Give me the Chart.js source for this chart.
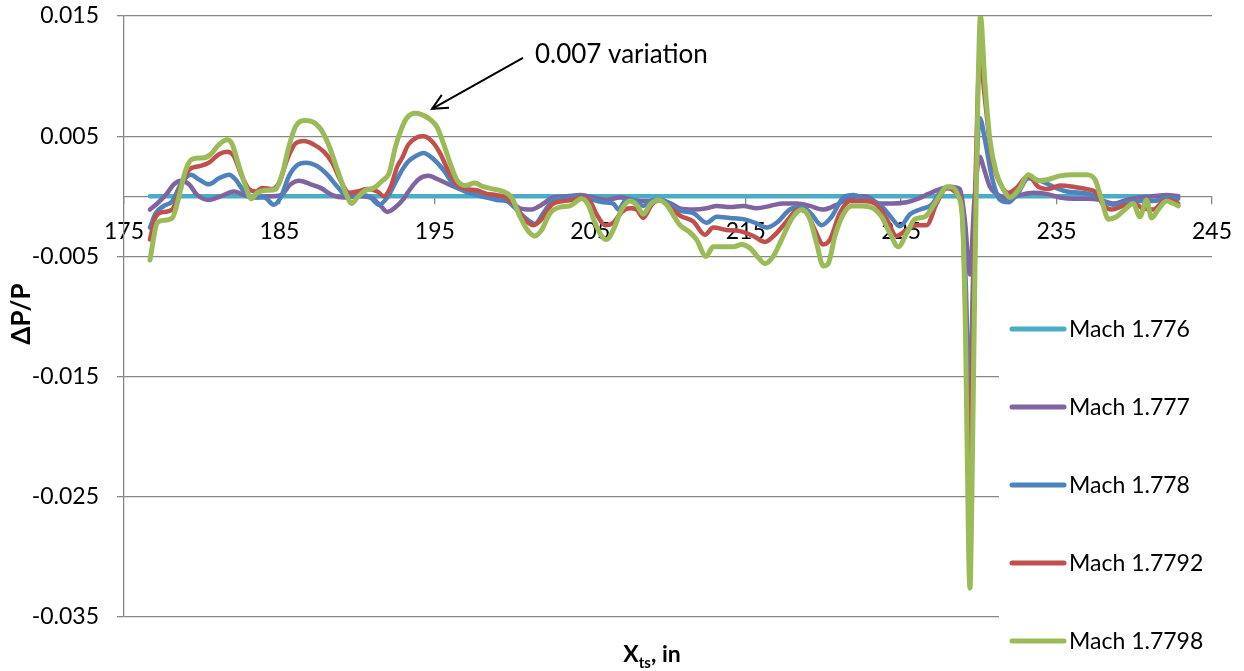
<!DOCTYPE html>
<html lang="en">
<head>
<meta charset="UTF-8">
<title>Pressure variation along Xts</title>
<script src="https://cdn.jsdelivr.net/npm/chart.js"></script>
<style>
  html, body { margin: 0; padding: 0; background: #fff; }
</style>
</head>
<body>
<canvas id="chart" width="1244" height="671"></canvas>
<script>
  // axis ticks
  const xTicks = [175, 185, 195, 205, 215, 225, 235, 245];
  const yTicks = [-0.035, -0.025, -0.015, -0.005, 0.005, 0.015];

  const seriesLabels = ["Mach 1.776", "Mach 1.777", "Mach 1.778", "Mach 1.7792", "Mach 1.7798"];
  const seriesColors = ["#4BACC6", "#8064A2", "#4F81BD", "#C0504D", "#9BBB59"];

  // Mach 1.776 (reference, flat)
  const x1776 = [176.67, 242.83];
  const y1776 = [0, 0];

  // Mach 1.777
  const x1777 = [176.67,177.14,177.68,178.22,178.65,179.18,179.72,180.47,181.22,182.08,182.72,183.36,184.22,185.08,185.72,186.26,187.01,187.65,188.40,189.15,190.01,190.87,191.51,191.94,192.48,193.0,193.3,193.94,194.58,195.22,195.87,196.62,197.37,198.12,198.98,199.83,200.48,201.23,201.87,202.62,203.48,204.34,205.20,206.05,206.91,207.77,208.63,209.48,210.34,210.77,211.63,212.49,213.13,213.99,214.84,215.70,216.56,217.42,218.28,219.13,219.99,220.85,221.71,222.67,223.64,224.50,225.35,226.10,226.75,227.50,228.14,228.78,229.1,229.43,229.7,230.07,230.28,230.71,231.25,231.89,232.64,233.50,234.36,235.22,236.08,236.93,237.79,238.65,239.50,240.36,241.22,242.08,242.83];
  const y1777 = [-0.0011,-0.0006,0.0001,0.001,0.0013,0.001,0.0001,-0.0003,0.0,0.0004,0.0001,-0.0001,0.0,0.0001,0.001,0.0013,0.001,0.0007,0.0001,-0.0001,0.0,-0.0001,-0.0008,-0.0013,-0.0009,-0.0002,0.0004,0.0014,0.0017,0.0014,0.001,0.0006,0.0003,0.0,-0.0001,-0.0004,-0.001,-0.0011,-0.0007,-0.0001,0.0,0.0001,-0.0001,-0.0003,-0.0001,-0.0003,-0.0004,-0.0003,-0.0007,-0.001,-0.0011,-0.001,-0.0008,-0.0009,-0.0008,-0.001,-0.0008,-0.0006,-0.0006,-0.0008,-0.0011,-0.0007,-0.0001,0.0,-0.0006,-0.0006,-0.0005,-0.0002,0.0002,0.0006,0.0008,0.0006,-0.002,-0.0065,-0.0005,0.0033,0.0025,0.0008,0.0001,-0.0002,0.0001,0.0003,0.0002,-0.0001,-0.0002,-0.0002,-0.0003,-0.0006,-0.0003,-0.0001,0.0,0.0001,0.0];

  // Mach 1.778
  const x1778 = [176.67,177.04,177.57,178.11,178.65,179.29,179.83,180.47,181.11,181.76,182.18,182.72,183.26,184.01,184.65,185.08,185.62,186.15,186.69,187.44,188.08,188.73,189.37,190.01,190.76,191.41,191.94,192.48,192.9,193.29,193.83,194.26,194.90,195.55,196.19,196.94,197.69,198.33,198.98,199.62,200.26,200.91,201.44,201.98,202.62,203.48,204.34,205.20,205.84,206.48,206.80,207.23,207.77,208.41,209.05,209.59,210.13,210.77,211.63,212.49,213.13,213.99,214.84,215.60,216.35,216.99,217.85,218.60,219.24,219.88,220.53,221.28,221.92,222.78,223.64,224.39,224.92,225.57,226.21,226.96,227.50,228.03,228.57,228.9,229.15,229.43,229.6,229.8,230.07,230.39,230.82,231.36,231.89,232.53,233.18,233.93,234.79,235.65,236.50,237.36,238.0,238.65,239.50,240.36,241.22,242.08,242.83];
  const y1778 = [-0.0026,-0.0014,-0.0008,-0.0004,0.001,0.0018,0.0014,0.001,0.0015,0.0018,0.0014,0.0004,-0.0001,-0.0001,-0.0007,-0.0001,0.0017,0.0026,0.0028,0.0025,0.0018,0.0008,0.0,0.0001,0.0,-0.0007,-0.0001,0.0012,0.0022,0.0029,0.0034,0.0036,0.0031,0.0022,0.001,0.0004,0.0001,-0.0001,-0.0003,-0.0004,-0.0011,-0.0019,-0.0023,-0.0014,-0.0003,-0.0001,0.0,-0.0003,-0.0005,-0.0006,-0.0011,-0.0004,-0.0003,-0.0008,-0.0003,-0.0003,-0.0007,-0.0012,-0.0014,-0.0022,-0.0017,-0.0018,-0.0019,-0.0022,-0.0026,-0.0022,-0.0011,-0.0009,-0.0015,-0.0024,-0.0017,-0.0001,0.0001,-0.0003,-0.0007,-0.0018,-0.0025,-0.0015,-0.0011,-0.0007,0.0003,0.0007,0.0004,-0.001,-0.007,-0.018,-0.008,0.001,0.0065,0.0047,0.0017,-0.0003,-0.0005,0.0003,0.0015,0.0013,0.0008,0.0004,0.0003,0.0001,-0.0004,-0.0007,-0.0005,-0.0004,-0.0004,-0.0001,-0.0002];

  // Mach 1.7792
  const x17792 = [176.67,177.04,177.57,178.11,178.65,179.18,179.83,180.47,181.11,181.65,182.08,182.51,183.04,183.47,183.90,184.54,184.97,185.51,186.04,186.58,187.22,187.87,188.40,188.94,189.48,190.01,190.66,191.30,191.73,192.16,192.59,192.9,193.29,193.83,194.26,194.79,195.33,195.87,196.40,197.05,197.69,198.33,198.98,199.62,200.16,200.69,201.33,201.87,202.51,203.26,203.91,204.44,204.98,205.41,205.95,206.48,207.02,207.55,207.98,208.41,208.95,209.48,210.02,210.77,211.63,212.38,212.91,213.77,214.63,215.49,216.24,216.88,217.63,218.38,218.92,219.45,219.99,220.42,221.06,221.71,222.56,223.42,224.07,224.71,225.35,226.0,226.64,227.28,227.93,228.57,228.9,229.15,229.43,229.6,229.8,230.07,230.39,230.82,231.36,231.89,232.43,233.18,233.82,234.47,235.22,236.08,236.93,237.47,238.0,238.54,239.29,239.93,240.58,241.22,241.87,242.29,242.83];
  const y17792 = [-0.0036,-0.0017,-0.0013,-0.0011,0.0008,0.0022,0.0025,0.0028,0.0035,0.0037,0.0033,0.0019,0.0006,0.0004,0.0007,0.0006,0.0011,0.0031,0.0044,0.0046,0.0043,0.0037,0.0028,0.0013,0.0003,0.0004,0.0006,0.0004,0.0,0.0008,0.0025,0.0032,0.0043,0.0049,0.005,0.0046,0.0036,0.0021,0.001,0.0006,0.0005,0.0002,0.0001,-0.0001,-0.0008,-0.0018,-0.0024,-0.0019,-0.0007,-0.0004,-0.0003,-0.0001,-0.0004,-0.0015,-0.0024,-0.0022,-0.0013,-0.001,-0.0011,-0.0018,-0.0007,-0.0003,-0.0008,-0.0016,-0.0021,-0.0032,-0.0026,-0.0028,-0.0029,-0.0033,-0.0038,-0.0032,-0.0021,-0.0011,-0.0014,-0.0028,-0.004,-0.0036,-0.0014,-0.0004,-0.0004,-0.0007,-0.0019,-0.0033,-0.0028,-0.0024,-0.0024,-0.0006,0.0007,0.0003,-0.001,-0.01,-0.026,-0.012,0.002,0.0117,0.0081,0.0033,0.0011,0.0003,0.0007,0.0017,0.0008,0.0006,0.0009,0.0008,0.0006,0.0004,-0.0007,-0.0011,-0.0008,-0.0006,-0.001,-0.0011,-0.0004,-0.0003,-0.0006];

  // Mach 1.7798
  const x17798 = [176.67,177.14,177.57,178.11,178.54,178.97,179.40,180.15,180.58,181.11,181.65,181.97,182.40,182.83,183.19,183.58,184.22,184.76,185.19,185.62,186.04,186.58,187.12,187.65,188.19,188.73,189.26,189.65,190.01,190.55,191.08,191.62,192.05,192.48,192.91,193.19,193.72,194.15,194.69,195.12,195.55,195.97,196.40,196.94,197.58,198.12,198.76,199.41,199.94,200.48,201.01,201.44,201.87,202.41,203.05,203.69,204.44,204.87,205.30,205.73,206.05,206.48,207.02,207.55,207.98,208.41,208.84,209.38,209.91,210.45,210.77,211.31,211.84,212.44,212.91,213.56,214.20,214.74,215.27,215.81,216.24,216.77,217.31,217.95,218.60,219.13,219.56,219.99,220.31,220.74,221.28,221.81,222.46,223.21,223.74,224.28,224.82,225.35,225.89,226.53,227.07,227.50,227.93,228.36,228.68,228.95,229.15,229.35,229.43,229.55,229.75,229.95,230.1,230.39,230.71,231.14,231.57,232.0,232.64,233.18,233.82,234.47,235.22,236.08,236.93,237.47,237.90,238.33,238.86,239.40,239.93,240.36,240.79,241.11,241.54,242.08,242.51,242.83];
  const y17798 = [-0.0053,-0.0022,-0.002,-0.0018,0.0,0.0022,0.0031,0.0032,0.0035,0.0043,0.0047,0.0043,0.0025,0.0008,-0.0002,0.0003,0.0005,0.0006,0.0019,0.0042,0.0058,0.0063,0.0062,0.0056,0.0042,0.0022,0.0003,-0.0006,-0.0001,0.0005,0.0007,0.0013,0.0019,0.0042,0.0058,0.0065,0.0069,0.0068,0.0064,0.0058,0.0044,0.0028,0.0014,0.0009,0.0011,0.0008,0.0006,0.0004,-0.0001,-0.0017,-0.0029,-0.0033,-0.0028,-0.0014,-0.0009,-0.0008,-0.0002,-0.0007,-0.0022,-0.0033,-0.0036,-0.0028,-0.0011,-0.0004,-0.0007,-0.0015,-0.0007,-0.0003,-0.0007,-0.0018,-0.0024,-0.0029,-0.0036,-0.005,-0.0042,-0.0042,-0.0042,-0.004,-0.0043,-0.0051,-0.0056,-0.005,-0.0036,-0.0019,-0.0011,-0.0019,-0.0039,-0.0058,-0.0056,-0.0033,-0.0015,-0.0008,-0.0008,-0.001,-0.0017,-0.0031,-0.0042,-0.0031,-0.0019,-0.0017,-0.0008,0.0001,0.0008,0.0007,0.0,-0.002,-0.012,-0.030,-0.0326,-0.025,-0.006,0.009,0.015,0.0094,0.0047,0.0019,0.0006,-0.0001,0.0007,0.0018,0.0013,0.0014,0.0017,0.0018,0.0018,0.0014,-0.0003,-0.0019,-0.0017,-0.0011,-0.0006,-0.0017,-0.0003,-0.0018,-0.0011,-0.0004,-0.0006,-0.0008];

  const xs = [x1776, x1777, x1778, x17792, x17798];
  const ys = [y1776, y1777, y1778, y17792, y17798];

  const datasets = seriesLabels.map((label, i) => ({
    label: label,
    data: xs[i].map((x, j) => ({ x: x, y: ys[i][j] })),
    borderColor: seriesColors[i],
    backgroundColor: seriesColors[i],
    borderWidth: i === 4 ? 5 : 4.5,
    order: 5 - i   // last series drawn on top, like Excel
  }));

  const FONT = "Lato";
  const GRID = "#878787";

  // axis titles, annotation and the legend box sitting over the plot
  const overlay = {
    id: "overlay",
    afterDraw(chart) {
      const c = chart.ctx;
      const sx = chart.scales.x, sy = chart.scales.y;
      c.save();

      // legend
      c.fillStyle = "#fff";
      c.fillRect(999, 290, 245, 381);
      chart.data.datasets.forEach((ds, i) => {
        const y = 329 + i * 78;
        c.strokeStyle = ds.borderColor;
        c.lineWidth = 5;
        c.lineCap = "round";
        c.beginPath();
        c.moveTo(1012, y);
        c.lineTo(1064, y);
        c.stroke();
        c.fillStyle = "#000";
        c.font = "23px " + FONT;
        c.textAlign = "left";
        c.textBaseline = "middle";
        c.fillText(ds.label, 1069, y + 1);
      });

      // y title
      c.save();
      c.translate(22, 314);
      c.rotate(-Math.PI / 2);
      c.font = "bold 26px " + FONT;
      c.textAlign = "center";
      c.textBaseline = "middle";
      c.fillStyle = "#000";
      c.fillText("\u0394P/P", 0, 0);
      c.restore();

      // x title with subscript
      c.fillStyle = "#000";
      c.textBaseline = "alphabetic";
      c.textAlign = "left";
      const big = "bold 23px " + FONT, small = "bold 15px " + FONT;
      c.font = big; const wX = c.measureText("X").width; const wIn = c.measureText(", in").width;
      c.font = small; const wTs = c.measureText("ts").width;
      let tx = 652 - (wX + wTs + wIn) / 2;
      const base = 662;
      c.font = big; c.fillText("X", tx, base); tx += wX;
      c.font = small; c.fillText("ts", tx, base + 6); tx += wTs;
      c.font = big; c.fillText(", in", tx, base);

      // annotation arrow
      const tipX = sx.getPixelForValue(194.82), tipY = sy.getPixelForValue(0.00728);
      const tailX = sx.getPixelForValue(200.67), tailY = sy.getPixelForValue(0.01152);
      c.strokeStyle = "#000";
      c.lineWidth = 2;
      c.lineCap = "butt";
      c.beginPath();
      c.moveTo(tailX, tailY);
      c.lineTo(tipX, tipY);
      const ang = Math.atan2(tipY - tailY, tipX - tailX);
      const head = 17;
      c.moveTo(tipX - head * Math.cos(ang - 0.45), tipY - head * Math.sin(ang - 0.45));
      c.lineTo(tipX, tipY);
      c.lineTo(tipX - head * Math.cos(ang + 0.45), tipY - head * Math.sin(ang + 0.45));
      c.stroke();
      c.font = "26px " + FONT;
      c.textBaseline = "middle";
      c.fillText("0.007 variation", sx.getPixelForValue(201.44), sy.getPixelForValue(0.01177));

      c.restore();
    }
  };

  new Chart(document.getElementById("chart").getContext("2d"), {
    type: "line",
    data: { datasets: datasets },
    options: {
      responsive: false,
      animation: false,
      layout: { padding: { left: 0, top: 16, right: 32, bottom: 54 } },
      plugins: { legend: { display: false }, tooltip: { enabled: false } },
      elements: {
        point: { radius: 0 },
        line: { cubicInterpolationMode: "monotone", borderCapStyle: "round", borderJoinStyle: "round" }
      },
      scales: {
        x: {
          type: "linear",
          position: { y: 0 },
          min: 175,
          max: 245,
          afterBuildTicks: s => { s.ticks = xTicks.map(v => ({ value: v })); },
          afterFit: s => { s.paddingLeft = 0; s.paddingRight = 0; },
          grid: { drawOnChartArea: false, drawTicks: true, tickLength: 7, color: GRID, lineWidth: 1.3 },
          border: { color: GRID, width: 1.3 },
          ticks: { font: { family: FONT, size: 23 }, color: "#000", padding: 14, maxRotation: 0, autoSkip: false }
        },
        y: {
          type: "linear",
          min: -0.035,
          max: 0.015,
          afterBuildTicks: s => { s.ticks = yTicks.map(v => ({ value: v })); },
          afterFit: s => { s.width = 124; s.paddingTop = 0; s.paddingBottom = 0; },
          grid: { color: GRID, lineWidth: 1.3, tickLength: 7 },
          border: { color: GRID, width: 1.3 },
          ticks: {
            font: { family: FONT, size: 23 },
            color: "#000",
            padding: 18,
            callback: v => v.toFixed(3)
          }
        }
      }
    },
    plugins: [overlay]
  });
</script>
</body>
</html>
